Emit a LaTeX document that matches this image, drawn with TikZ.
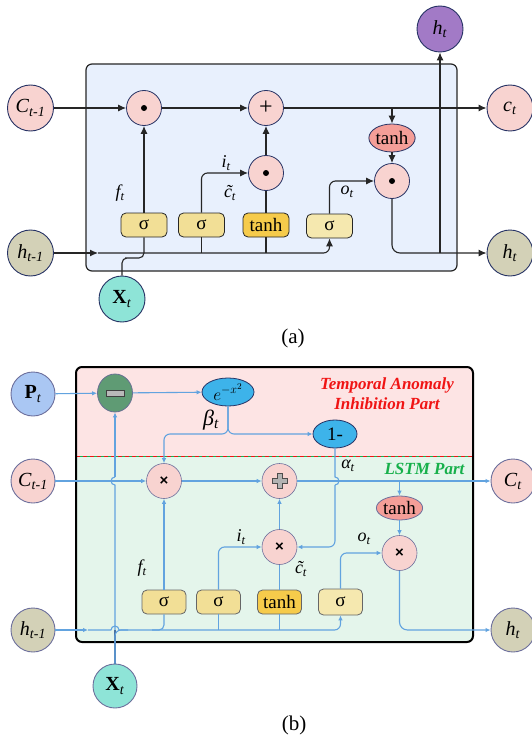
\documentclass[tikz,border=0pt]{standalone}
\usepackage{fontspec}
\setmainfont{Liberation Serif}
\newfontfamily\opsans{Liberation Sans}
\usetikzlibrary{arrows.meta, positioning, calc, shapes.geometric}
\definecolor{lstnavy}{HTML}{263264}
\definecolor{lstgrayblue}{HTML}{6C6F9C}
\definecolor{lstpink}{HTML}{F8D3D0}
\definecolor{lstolive}{HTML}{D3D1B7}
\definecolor{lstteal}{HTML}{8EE4D7}
\definecolor{lstpurple}{HTML}{A27AC6}
\definecolor{lstsig}{HTML}{F2DF96}
\definecolor{lstsigl}{HTML}{F5E8AF}
\definecolor{lstgold}{HTML}{F6CB4B}
\definecolor{lstsalmon}{HTML}{F49E98}
\definecolor{lstpanel}{HTML}{E8F0FD}
\definecolor{lstblue}{HTML}{62A3DF}
\definecolor{lstdblue}{HTML}{4A72A0}
\definecolor{lstcyan}{HTML}{3DB3EA}
\definecolor{lstgreen}{HTML}{5F9B74}
\definecolor{lstpbg}{HTML}{FDE4E4}
\definecolor{lstgbg}{HTML}{E4F5EB}
\definecolor{lstpblue}{HTML}{AAC7F3}
\definecolor{lstred}{HTML}{F01414}
\definecolor{lstlgreen}{HTML}{17B04B}
\tikzset{
  state/.style={circle, draw=lstnavy, line width=0.9pt, minimum size=46pt, inner sep=0pt,
    font=\fontsize{20}{22}\selectfont},
  opnode/.style={circle, draw=lstnavy, line width=0.8pt, fill=lstpink, minimum size=35pt, inner sep=0pt},
  gatebox/.style={rectangle, rounded corners=5pt, draw=black!85, line width=0.8pt, fill=lstsig,
    minimum width=46pt, minimum height=24pt, inner sep=0pt, font=\fontsize{19}{21}\selectfont},
  actell/.style={ellipse, draw=lstnavy, line width=0.8pt, inner sep=0pt, font=\fontsize{19}{21}\selectfont},
  glabel/.style={font=\fontsize{18}{20}\selectfont\itshape, inner sep=0pt},
  arr/.style={-{Latex[length=8pt, width=7pt]}, line width=1.1pt, black!85},
  wire/.style={line width=1.1pt, black!85},
  barr/.style={-{Latex[length=5pt, width=4.5pt]}, line width=1.1pt, lstblue},
  bwire/.style={line width=1.1pt, lstblue},
}
\newcommand{\vsb}[2]{\textit{#1}\textsubscript{\textit{#2}}}

\begin{document}
\begin{tikzpicture}[x=1pt, y=-1pt]
  \useasboundingbox (0,0) rectangle (531,741);

  % (a) plain LSTM cell
  \draw[wire, line width=1.2pt, fill=lstpanel, rounded corners=6pt] (86,64) rectangle (457,271);
  \node[state, fill=lstpink] (ca0) at (30.5,108) {\vsb{C}{t-1}};
  \node[opnode] (fa) at (144,108) {};
  \node[opnode, font=\fontsize{24}{24}\selectfont] (pa) at (266,108) {+};
  \node[state, fill=lstpink] (ca1) at (510,108) {\vsb{c}{t}};
  \node[state, fill=lstpurple] (hta) at (440,29) {\vsb{h}{t}};
  \node[actell, fill=lstsalmon, minimum width=46pt, minimum height=28pt] (tha) at (392,138) {tanh};
  \node[opnode] (ia) at (266,173) {};
  \node[opnode] (oa) at (392,181) {};
  \node[gatebox] (sfa) at (144,225) {σ};
  \node[gatebox] (sia) at (201.5,225) {σ};
  \node[gatebox, fill=lstgold] (tga) at (266,225) {tanh};
  \node[gatebox, fill=lstsigl] (soa) at (329.5,226) {σ};
  \node[state, fill=lstolive] (ha0) at (30.5,253) {\vsb{h}{t-1}};
  \node[state, fill=lstolive] (ha1) at (510,253) {\vsb{h}{t}};
  \node[state, fill=lstteal] (xa) at (122,299) {\textbf{X}\textsubscript{\textit{t}}};
  \node[font=\fontsize{21}{23}\selectfont] (capa) at (293,338) {(a)};
  \foreach \n in {fa, ia, oa}
    \fill (\n) circle (3pt);

  \node[glabel] (lfa) at (120,193) {f\textsubscript{t}};
  \node[glabel] (lia) at (226,163) {i\textsubscript{t}};
  \node[glabel] (lca) at (230,193) {\~{c}\textsubscript{t}};
  \node[glabel] (loa) at (347,192) {o\textsubscript{t}};

  \draw[arr] (ca0) -- (fa);
  \draw[arr] (fa) -- (pa);
  \draw[arr] (pa) -- (ca1);
  \draw[arr] (sfa) -- (fa);
  \draw[arr] (ia) -- (pa);
  \draw[wire] (tga) -- (ia);
  \draw[arr, rounded corners=6pt] (sia.north) |- (ia.west);
  \draw[arr, rounded corners=6pt] (soa.north) |- (oa.west);
  \draw[arr] (tha.north |- pa) -- (tha);
  \draw[arr] (tha) -- (oa);
  \draw[arr, rounded corners=8pt] (oa.south) |- (ha1.west);
  \draw[arr] (hta.south |- ha1) -- (hta);
  \coordinate (hmida) at (98,253);
  \draw[arr] (ha0.east) -- (hmida);
  \draw[arr, rounded corners=6pt] (hmida) -| (soa.south);
  \draw[wire] (sia.south) -- (sia.south |- ha0);
  \draw[wire] (tga.south) -- (tga.south |- ha0);
  \coordinate (xja) at (130,258);
  \draw[wire, rounded corners=5pt] (xa.north) |- (xja) -| (sfa.south);

  % (b) LSTM with anomaly inhibition
  \begin{scope}
    \clip[rounded corners=6pt] (76,367) rectangle (473,642);
    \fill[lstpbg] (76,367) rectangle (473,456);
    \fill[lstgbg] (76,456) rectangle (473,642);
  \end{scope}
  \draw[lstlgreen, line width=1pt] (76,456) -- (473,456);
  \draw[lstred, line width=1pt, dash pattern=on 4pt off 3pt] (76,456) -- (473,456);
  \draw[line width=2pt, rounded corners=6pt] (76,367) rectangle (473,642);

  \node[font=\fontsize{17}{20}\selectfont\bfseries\itshape, text=lstred, align=center] (tait) at (387,394)
    {Temporal Anomaly\\Inhibition Part};
  \node[font=\fontsize{17}{20}\selectfont\bfseries\itshape, text=lstlgreen] (lstmt) at (424.5,469) {LSTM Part};

  \node[state, draw=lstgrayblue, fill=lstpblue, minimum size=44pt] (ptb) at (33,394) {\textbf{P}\textsubscript{\textit{t}}};
  \node[ellipse, draw=lstnavy!70, line width=0.8pt, fill=lstgreen, minimum width=35pt, minimum height=38pt] (mb) at (115,393) {};
  \draw[fill=gray!55, draw=black!75, line width=0.6pt] ($(mb)+(-9,-2.8)$) rectangle ($(mb)+(9,2.8)$);
  \node[actell, fill=lstcyan, minimum width=52pt, minimum height=28pt, font=\fontsize{18}{20}\selectfont] (eb) at (228,392) {$e^{-x^2}$};
  \node[actell, fill=lstcyan, minimum width=44pt, minimum height=28pt] (omb) at (335,434) {1-};
  \node[state, draw=lstgrayblue, fill=lstpink, minimum size=44pt] (cb0) at (33,481) {\vsb{C}{t-1}};
  \node[opnode, draw=lstgrayblue, line width=0.6pt, font=\opsans\bfseries\fontsize{15}{15}\selectfont] (fb) at (164,481) {×};
  \node[opnode, draw=lstgrayblue, line width=0.6pt] (pb) at (279.5,481) {};
  \draw[fill=gray!60, draw=black!70, line width=0.5pt] ($(pb)+(-2.5,-7.5)$) -- ++(5,0) -- ++(0,5) -- ++(5,0)
    -- ++(0,5) -- ++(-5,0) -- ++(0,5) -- ++(-5,0) -- ++(0,-5) -- ++(-5,0) -- ++(0,-5) -- ++(5,0) -- cycle;
  \node[state, draw=lstgrayblue, fill=lstpink, minimum size=44pt] (cb1) at (513,481) {\vsb{C}{t}};
  \node[actell, draw=lstgrayblue, fill=lstsalmon, minimum width=45pt, minimum height=24pt] (thb) at (399.5,508) {tanh};
  \node[opnode, draw=lstgrayblue, line width=0.6pt, font=\opsans\bfseries\fontsize{15}{15}\selectfont] (ib) at (279.5,547) {×};
  \node[opnode, draw=lstgrayblue, line width=0.6pt, font=\opsans\bfseries\fontsize{15}{15}\selectfont] (outb) at (399.5,553) {×};
  \node[gatebox, draw=black!60, minimum width=44pt] (sfb) at (164,602) {σ};
  \node[gatebox, draw=black!60, minimum width=44pt] (sib) at (218.5,602) {σ};
  \node[gatebox, draw=black!60, minimum width=44pt, fill=lstgold] (tgb) at (279.5,602) {tanh};
  \node[gatebox, draw=black!60, minimum width=44pt, minimum height=26pt, fill=lstsigl] (sob) at (340.5,602) {σ};
  \node[state, draw=lstgrayblue, fill=lstolive, minimum size=44pt] (hb0) at (33,630) {\vsb{h}{t-1}};
  \node[state, draw=lstgrayblue, fill=lstolive, minimum size=44pt] (hb1) at (513,630) {\vsb{h}{t}};
  \node[state, draw=lstgrayblue, fill=lstteal, minimum size=44pt] (xb) at (115,686) {\textbf{X}\textsubscript{\textit{t}}};
  \node[font=\fontsize{21}{23}\selectfont] (capb) at (294,725) {(b)};

  \node[glabel, font=\fontsize{22}{24}\selectfont\itshape] (lbb) at (211,420) {β\textsubscript{t}};
  \node[glabel] (lab) at (348,466) {α\textsubscript{t}};
  \node[glabel] (lib) at (241,537) {i\textsubscript{t}};
  \node[glabel] (lfb) at (142,568) {f\textsubscript{t}};
  \node[glabel] (lcb) at (301,569) {\~{c}\textsubscript{t}};
  \node[glabel] (lob) at (364,539) {o\textsubscript{t}};

  \draw[barr] (ptb) -- (mb);
  \draw[barr] (mb) -- (eb);
  \draw[barr, rounded corners=6pt] (eb.south) |- (omb.west);
  \draw[barr, rounded corners=6pt] (eb.south) -- (eb.south |- omb) -| (fb.north);
  \draw[barr] (cb0) -- (fb);
  \draw[barr] (fb) -- (pb);
  \draw[barr] (pb) -- (cb1);
  \draw[barr] (thb.north |- pb) -- (thb);
  \draw[barr] (thb) -- (outb);
  \draw[barr] (sfb) -- (fb);
  \draw[barr] (ib) -- (pb);
  \draw[bwire] (tgb) -- (ib);
  \draw[barr, rounded corners=6pt] (sib.north) |- (ib.west);
  \draw[barr, rounded corners=6pt] (sob.north) |- (outb.west);
  \draw[barr, rounded corners=8pt] (outb.south) |- (hb1.west);
  \draw[bwire] (sib.south) -- (sib.south |- hb0);
  \draw[bwire] (tgb.south) -- (tgb.south |- hb0);
  \coordinate (fjb) at (152,630);
  \draw[bwire, rounded corners=5pt] (sfb.south) |- (fjb);

  % hops where wires cross
  \coordinate (hopa1) at ($(omb.south |- cb0)+(0,-4)$);
  \coordinate (hopa2) at ($(omb.south |- cb0)+(0,4)$);
  \draw[bwire] (omb.south) -- (hopa1) arc[start angle=90, end angle=-90, radius=4pt];
  \draw[barr, rounded corners=6pt] (hopa2) |- (ib.east);
  \coordinate (hopx1) at ($(mb.south |- cb0)+(0,4)$);
  \coordinate (hopx2) at ($(mb.south |- cb0)+(0,-4)$);
  \draw[bwire] (xb.north) -- (hopx1) arc[start angle=-90, end angle=-270, radius=4pt];
  \draw[barr] (hopx2) -- (mb.south);
  \draw[bwire, lstdblue] (xb.north) -- (xb.north |- hb0);
  \coordinate (xjb) at (128,630);
  \draw[bwire, rounded corners=6pt] (xb.north) |- (xjb);
  \coordinate (hmidb) at (88,630);
  \coordinate (hopb1) at ($(xb.north |- hb0)+(-4,0)$);
  \coordinate (hopb2) at ($(xb.north |- hb0)+(4,0)$);
  \draw[barr] (hb0.east) -- (hmidb);
  \draw[bwire] (hmidb) -- (hopb1) arc[start angle=180, end angle=0, radius=4pt];
  \draw[barr, rounded corners=6pt] (hopb2) -| (sob.south);
\end{tikzpicture}
\end{document}
